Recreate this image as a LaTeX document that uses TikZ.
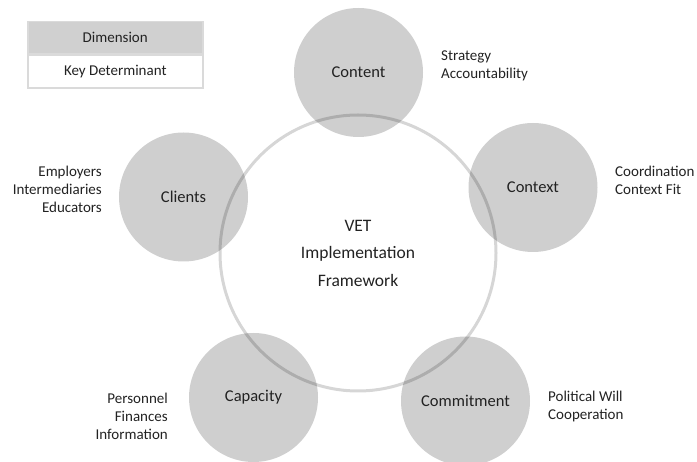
\documentclass[tikz,border=0pt]{standalone}
\usepackage{fontspec}
\setmainfont{Carlito}
\definecolor{ringgray}{HTML}{D6D6D6}
\definecolor{boxgray}{HTML}{D0D0D0}
\definecolor{boxline}{HTML}{DADADA}
\definecolor{txt}{HTML}{222222}
\begin{document}
\begin{tikzpicture}[x=1pt,y=-1pt,
  dimcircle/.style={circle,minimum size=129pt,inner sep=0pt,fill=black,fill opacity=0.19,text opacity=1,text=txt,font=\fontsize{16.5}{20}\selectfont},
  detlabel/.style={inner sep=0pt,text=txt,font=\fontsize{15}{18}\selectfont},
  ringstyle/.style={circle,minimum size=276pt,inner sep=0pt,draw=ringgray,line width=3pt}
]
\useasboundingbox (0,0) rectangle (697,462);
% legend
\node[draw=boxline,line width=1.5pt,fill=boxgray,minimum width=175pt,minimum height=32pt,inner sep=0pt,text=txt,font=\fontsize{15}{18}\selectfont,anchor=north west] (legdim) at (27,21) {Dimension};
\node[draw=boxline,line width=1.5pt,fill=white,minimum width=175pt,minimum height=33pt,inner sep=0pt,text=txt,font=\fontsize{15}{18}\selectfont,anchor=north] (legkey) at (legdim.south) {Key Determinant};
% ring
\node[ringstyle] (ring) at (358,253) {};
\node[text=txt,align=center,font=\fontsize{17.5}{27.5}\selectfont] (vet) at (358,253) {VET\\Implementation\\Framework};
% dimension circles
\node[dimcircle] (content) at (358.5,72.5) {Content};
\node[dimcircle] (context) at (533,187.5) {Context};
\node[dimcircle] (clients) at (183.5,197) {Clients};
\node[dimcircle] (capacity) at (253.5,397.5) {Capacity};
\node[dimcircle] (commitment) at (465.5,401) {Commitment};
% key determinants
\node[detlabel,align=left,anchor=west] (contentdet) at (441,66) {Strategy\\Accountability};
\node[detlabel,align=left,anchor=west] (contextdet) at (615,180) {Coordination\\Context Fit};
\node[detlabel,align=right,anchor=east] (clientsdet) at (102,189.5) {Employers\\Intermediaries\\Educators};
\node[detlabel,align=right,anchor=east] (capacitydet) at (168,416) {Personnel\\Finances\\Information};
\node[detlabel,align=left,anchor=west] (commitdet) at (548,407) {Political Will\\Cooperation};
\end{tikzpicture}
\end{document}
